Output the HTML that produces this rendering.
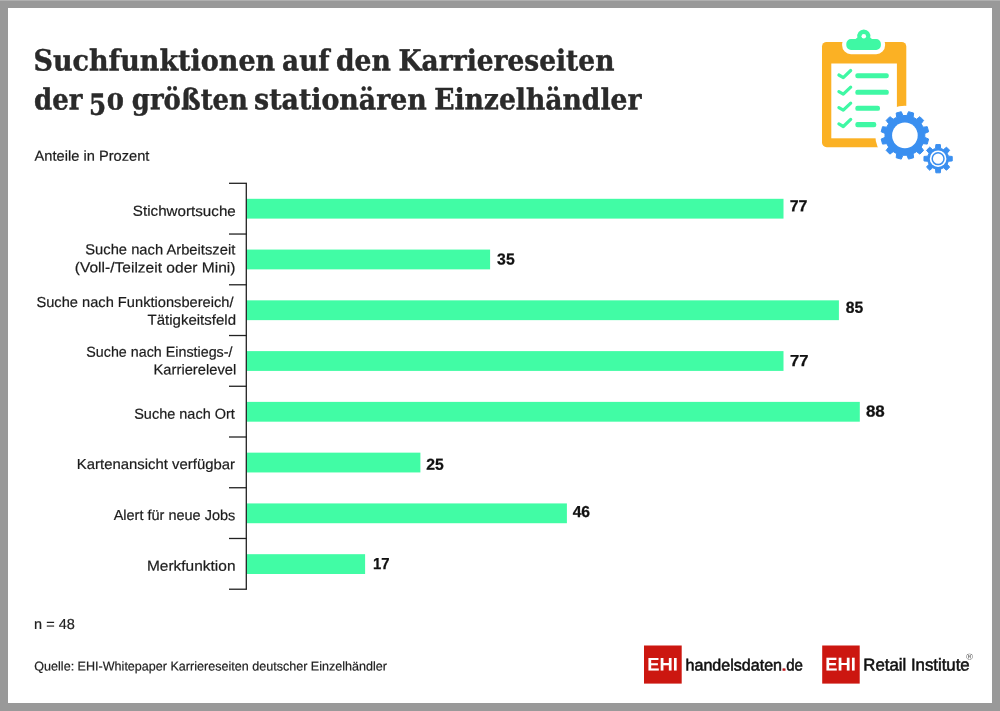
<!DOCTYPE html>
<html lang="de">
<head>
<meta charset="utf-8">
<title>Suchfunktionen auf den Karriereseiten der 50 größten stationären Einzelhändler</title>
<style>
html,body{margin:0;padding:0;background:#999;}
body{width:1000px;height:711px;overflow:hidden;}
svg{display:block;}
.ti{font-family:"DejaVu Serif Condensed","DejaVu Serif","Liberation Serif",serif;font-weight:bold;fill:#2a2a2a;stroke:#2a2a2a;stroke-width:0.4px;}
.lb{font-family:"Liberation Sans","DejaVu Sans",sans-serif;fill:#1c1c1c;stroke:#1c1c1c;stroke-width:0.2px;}
.ft{font-family:"Liberation Sans","DejaVu Sans",sans-serif;fill:#222;stroke:#222;stroke-width:0.2px;}
.vl{font-family:"Liberation Sans","DejaVu Sans",sans-serif;font-weight:bold;fill:#111;stroke:#111;stroke-width:0.25px;}
.ehi{font-family:"Liberation Sans","DejaVu Sans",sans-serif;font-weight:bold;fill:#fff;}
.lg{font-family:"Liberation Sans","DejaVu Sans",sans-serif;fill:#111;stroke:#111;stroke-width:0.55px;}
.rg{font-family:"Liberation Sans","DejaVu Sans",sans-serif;fill:#555;}
.lgr{font-family:"Liberation Sans","DejaVu Sans",sans-serif;fill:#c0141a;stroke:#c0141a;stroke-width:0.45px;}
</style>
</head>
<body>
<svg width="1000" height="711" viewBox="0 0 1000 711">
<rect x="0" y="0" width="1000" height="711" fill="#999999"/>
<rect x="0" y="0" width="1000" height="1" fill="#b0b0b0"/>
<rect x="8" y="8" width="984" height="695" fill="#ffffff"/>
<rect x="246.3" y="198.80" width="537.2" height="19.8" fill="#41fca5"/>
<rect x="246.3" y="249.57" width="243.8" height="19.8" fill="#41fca5"/>
<rect x="246.3" y="300.34" width="592.6" height="19.8" fill="#41fca5"/>
<rect x="246.3" y="351.11" width="537.2" height="19.8" fill="#41fca5"/>
<rect x="246.3" y="401.88" width="613.5" height="19.8" fill="#41fca5"/>
<rect x="246.3" y="452.65" width="174.1" height="19.8" fill="#41fca5"/>
<rect x="246.3" y="503.42" width="320.6" height="19.8" fill="#41fca5"/>
<rect x="246.3" y="554.19" width="118.8" height="19.8" fill="#41fca5"/>
<line x1="246.3" y1="183.3" x2="246.3" y2="589.22" stroke="#222" stroke-width="1.3"/>
<line x1="229" y1="183.30" x2="246.95000000000002" y2="183.30" stroke="#222" stroke-width="1.3"/>
<line x1="229" y1="234.04" x2="246.95000000000002" y2="234.04" stroke="#222" stroke-width="1.3"/>
<line x1="229" y1="284.78" x2="246.95000000000002" y2="284.78" stroke="#222" stroke-width="1.3"/>
<line x1="229" y1="335.52" x2="246.95000000000002" y2="335.52" stroke="#222" stroke-width="1.3"/>
<line x1="229" y1="386.26" x2="246.95000000000002" y2="386.26" stroke="#222" stroke-width="1.3"/>
<line x1="229" y1="437.00" x2="246.95000000000002" y2="437.00" stroke="#222" stroke-width="1.3"/>
<line x1="229" y1="487.74" x2="246.95000000000002" y2="487.74" stroke="#222" stroke-width="1.3"/>
<line x1="229" y1="538.48" x2="246.95000000000002" y2="538.48" stroke="#222" stroke-width="1.3"/>
<line x1="229" y1="589.22" x2="246.95000000000002" y2="589.22" stroke="#222" stroke-width="1.3"/>
<rect x="822" y="41.9" width="84.3" height="105.3" rx="4.6" fill="#fbb124"/>
<rect x="831.3" y="63.5" width="65.6" height="74.8" fill="#fff"/>
<path d="M851,39.1 H855.6 L857.4,37.6 A6.6,6.6 0 1 1 870.2,37.6 L872,39.1 H876.2 A4.7,4.7 0 0 1 880.9,43.8 V45.3 A4.7,4.7 0 0 1 876.2,50 H851 A4.7,4.7 0 0 1 846.3,45.3 V43.8 A4.7,4.7 0 0 1 851,39.1 Z" fill="#fff" stroke="#fff" stroke-width="8.4" stroke-linejoin="round"/>
<path d="M851,39.1 H855.6 L857.4,37.6 A6.6,6.6 0 1 1 870.2,37.6 L872,39.1 H876.2 A4.7,4.7 0 0 1 880.9,43.8 V45.3 A4.7,4.7 0 0 1 876.2,50 H851 A4.7,4.7 0 0 1 846.3,45.3 V43.8 A4.7,4.7 0 0 1 851,39.1 Z" fill="#3ff8a4"/>
<circle cx="863.8" cy="36.2" r="2.3" fill="#fff"/>
<path d="M838.9,75.0 L843.3,77.6 L850.7,70.5" fill="none" stroke="#3ff8a4" stroke-width="3.2" stroke-linecap="round" stroke-linejoin="round"/>
<rect x="855.3" y="73.15" width="33.5" height="5.1" rx="2.2" fill="#3ff8a4"/>
<path d="M838.9,91.6 L843.3,94.2 L850.7,87.1" fill="none" stroke="#3ff8a4" stroke-width="3.2" stroke-linecap="round" stroke-linejoin="round"/>
<rect x="855.3" y="89.75" width="33.5" height="5.1" rx="2.2" fill="#3ff8a4"/>
<path d="M838.9,107.6 L843.3,110.2 L850.7,103.1" fill="none" stroke="#3ff8a4" stroke-width="3.2" stroke-linecap="round" stroke-linejoin="round"/>
<rect x="855.3" y="105.75" width="24.7" height="5.1" rx="2.2" fill="#3ff8a4"/>
<path d="M838.9,123.9 L843.3,126.5 L850.7,119.4" fill="none" stroke="#3ff8a4" stroke-width="3.2" stroke-linecap="round" stroke-linejoin="round"/>
<rect x="855.3" y="122.05" width="21.0" height="5.1" rx="2.2" fill="#3ff8a4"/>
<circle cx="904.9" cy="135.4" r="29.6" fill="#fff"/>
<path d="M906.89,115.50 L908.53,111.68 L913.62,113.04 L913.13,117.17 L916.57,119.16 L919.91,116.67 L923.63,120.39 L921.14,123.73 L923.13,127.17 L927.26,126.68 L928.62,131.77 L924.80,133.41 L924.80,137.39 L928.62,139.03 L927.26,144.12 L923.13,143.63 L921.14,147.07 L923.63,150.41 L919.91,154.13 L916.57,151.64 L913.13,153.63 L913.62,157.76 L908.53,159.12 L906.89,155.30 L902.91,155.30 L901.27,159.12 L896.18,157.76 L896.67,153.63 L893.23,151.64 L889.89,154.13 L886.17,150.41 L888.66,147.07 L886.67,143.63 L882.54,144.12 L881.18,139.03 L885.00,137.39 L885.00,133.41 L881.18,131.77 L882.54,126.68 L886.67,127.17 L888.66,123.73 L886.17,120.39 L889.89,116.67 L893.23,119.16 L896.67,117.17 L896.18,113.04 L901.27,111.68 L902.91,115.50Z" fill="#3a8ff0" stroke="#3a8ff0" stroke-width="1" stroke-linejoin="round"/>
<circle cx="904.9" cy="135.4" r="12.8" fill="#fff"/>
<path d="M935.54,148.41 L935.86,144.58 L940.34,144.58 L940.66,148.41 L943.57,149.62 L946.51,147.13 L949.67,150.29 L947.18,153.23 L948.39,156.14 L952.22,156.46 L952.22,160.94 L948.39,161.26 L947.18,164.17 L949.67,167.11 L946.51,170.27 L943.57,167.78 L940.66,168.99 L940.34,172.82 L935.86,172.82 L935.54,168.99 L932.63,167.78 L929.69,170.27 L926.53,167.11 L929.02,164.17 L927.81,161.26 L923.98,160.94 L923.98,156.46 L927.81,156.14 L929.02,153.23 L926.53,150.29 L929.69,147.13 L932.63,149.62Z" fill="#fff" stroke="#fff" stroke-width="5" stroke-linejoin="round"/>
<path d="M935.54,148.41 L935.86,144.58 L940.34,144.58 L940.66,148.41 L943.57,149.62 L946.51,147.13 L949.67,150.29 L947.18,153.23 L948.39,156.14 L952.22,156.46 L952.22,160.94 L948.39,161.26 L947.18,164.17 L949.67,167.11 L946.51,170.27 L943.57,167.78 L940.66,168.99 L940.34,172.82 L935.86,172.82 L935.54,168.99 L932.63,167.78 L929.69,170.27 L926.53,167.11 L929.02,164.17 L927.81,161.26 L923.98,160.94 L923.98,156.46 L927.81,156.14 L929.02,153.23 L926.53,150.29 L929.69,147.13 L932.63,149.62Z" fill="#3a8ff0" stroke="#3a8ff0" stroke-width="1" stroke-linejoin="round"/>
<circle cx="938.1" cy="158.7" r="8.3" fill="#fff"/>
<circle cx="938.1" cy="158.7" r="5.9" fill="#fff" stroke="#3a8ff0" stroke-width="1.5"/>
<rect x="644" y="645.5" width="37.7" height="38.1" fill="#cc1710"/>
<rect x="822.2" y="645.5" width="37.5" height="38.1" fill="#cc1710"/>
<text id="t1" class="ti" transform="matrix(1,0.0006,0,1,0,-0.0930)" x="33.46" y="70.50" font-size="29.2" textLength="241.75" lengthAdjust="spacingAndGlyphs">Suchfunktionen</text>
<text id="t2" class="ti" transform="matrix(1,0.0006,0,1,0,-0.1842)" x="282.13" y="70.50" font-size="29.2" textLength="47.39" lengthAdjust="spacingAndGlyphs">auf</text>
<text id="t3" class="ti" transform="matrix(1,0.0006,0,1,0,-0.2182)" x="335.93" y="70.50" font-size="29.2" textLength="54.92" lengthAdjust="spacingAndGlyphs">den</text>
<text id="t4" class="ti" transform="matrix(1,0.0006,0,1,0,-0.3042)" x="398.56" y="70.50" font-size="29.2" textLength="215.91" lengthAdjust="spacingAndGlyphs">Karriereseiten</text>
<text id="t5" class="ti" transform="matrix(1,0.0006,0,1,0,-0.0354)" x="34.01" y="109.40" font-size="29.2" textLength="48.42" lengthAdjust="spacingAndGlyphs">der</text>
<text id="t6" transform="matrix(1,0.0006,0,1,0,-0.0642)"><tspan class="ti" x="89.10" y="114.70" font-size="29.2" textLength="17.13" lengthAdjust="spacingAndGlyphs">5</tspan><tspan class="ti" x="106.78" y="109.60" font-size="22.4" textLength="17.27" lengthAdjust="spacingAndGlyphs">0</tspan></text>
<text id="t7" class="ti" transform="matrix(1,0.0006,0,1,0,-0.1142)" x="131.80" y="109.40" font-size="29.2" textLength="116.20" lengthAdjust="spacingAndGlyphs">größten</text>
<text id="t8" class="ti" transform="matrix(1,0.0006,0,1,0,-0.2045)" x="254.06" y="109.40" font-size="29.2" textLength="172.79" lengthAdjust="spacingAndGlyphs">stationären</text>
<text id="t9" class="ti" transform="matrix(1,0.0006,0,1,0,-0.3231)" x="434.18" y="109.40" font-size="29.2" textLength="207.30" lengthAdjust="spacingAndGlyphs">Einzelhändler</text>
<text id="sub" class="lb" transform="matrix(1,0.0006,0,1,0,-0.0553)" x="34.60" y="160.80" font-size="14.5" textLength="114.84" lengthAdjust="spacingAndGlyphs">Anteile in Prozent</text>
<text id="l1" class="lb" transform="matrix(1,0.0006,0,1,0,-0.1105)" x="132.86" y="215.90" font-size="14.5" textLength="102.94" lengthAdjust="spacingAndGlyphs">Stichwortsuche</text>
<text id="l2a" class="lb" transform="matrix(1,0.0006,0,1,0,-0.0963)" x="85.28" y="254.40" font-size="14.5" textLength="150.00" lengthAdjust="spacingAndGlyphs">Suche nach Arbeitszeit</text>
<text id="l2b" class="lb" transform="matrix(1,0.0006,0,1,0,-0.0930)" x="74.77" y="272.40" font-size="14.5" textLength="160.72" lengthAdjust="spacingAndGlyphs">(Voll-/Teilzeit oder Mini)</text>
<text id="l3a" class="lb" transform="matrix(1,0.0006,0,1,0,-0.0811)" x="36.40" y="307.00" font-size="14.5" textLength="197.18" lengthAdjust="spacingAndGlyphs">Suche nach Funktionsbereich/</text>
<text id="l3b" class="lb" transform="matrix(1,0.0006,0,1,0,-0.1148)" x="147.49" y="324.80" font-size="14.5" textLength="88.53" lengthAdjust="spacingAndGlyphs">Tätigkeitsfeld</text>
<text id="l4a" class="lb" transform="matrix(1,0.0006,0,1,0,-0.0958)" x="86.26" y="356.80" font-size="14.5" textLength="146.23" lengthAdjust="spacingAndGlyphs">Suche nach Einstiegs-/</text>
<text id="l4b" class="lb" transform="matrix(1,0.0006,0,1,0,-0.1170)" x="153.55" y="374.60" font-size="14.5" textLength="82.71" lengthAdjust="spacingAndGlyphs">Karrierelevel</text>
<text id="l5" class="lb" transform="matrix(1,0.0006,0,1,0,-0.1108)" x="134.21" y="418.75" font-size="14.5" textLength="100.67" lengthAdjust="spacingAndGlyphs">Suche nach Ort</text>
<text id="l6" class="lb" transform="matrix(1,0.0006,0,1,0,-0.0938)" x="76.80" y="469.10" font-size="14.5" textLength="158.22" lengthAdjust="spacingAndGlyphs">Kartenansicht verfügbar</text>
<text id="l7" class="lb" transform="matrix(1,0.0006,0,1,0,-0.1046)" x="113.69" y="520.10" font-size="14.5" textLength="121.59" lengthAdjust="spacingAndGlyphs">Alert für neue Jobs</text>
<text id="l8" class="lb" transform="matrix(1,0.0006,0,1,0,-0.1148)" x="146.95" y="570.70" font-size="14.5" textLength="88.58" lengthAdjust="spacingAndGlyphs">Merkfunktion</text>
<text id="v1" class="vl" transform="matrix(1,0.0006,0,1,0,-0.4791)" x="789.72" y="211.20" font-size="15.9" textLength="17.79" lengthAdjust="spacingAndGlyphs">77</text>
<text id="v2" class="vl" transform="matrix(1,0.0006,0,1,0,-0.3036)" x="497.11" y="264.60" font-size="15.9" textLength="17.60" lengthAdjust="spacingAndGlyphs">35</text>
<text id="v3" class="vl" transform="matrix(1,0.0006,0,1,0,-0.5127)" x="845.71" y="312.80" font-size="15.9" textLength="17.52" lengthAdjust="spacingAndGlyphs">85</text>
<text id="v4" class="vl" transform="matrix(1,0.0006,0,1,0,-0.4796)" x="790.06" y="366.00" font-size="15.9" textLength="18.51" lengthAdjust="spacingAndGlyphs">77</text>
<text id="v5" class="vl" transform="matrix(1,0.0006,0,1,0,-0.5252)" x="865.93" y="416.40" font-size="15.9" textLength="18.87" lengthAdjust="spacingAndGlyphs">88</text>
<text id="v6" class="vl" transform="matrix(1,0.0006,0,1,0,-0.2610)" x="426.34" y="469.80" font-size="15.9" textLength="17.57" lengthAdjust="spacingAndGlyphs">25</text>
<text id="v7" class="vl" transform="matrix(1,0.0006,0,1,0,-0.3487)" x="572.65" y="517.00" font-size="15.9" textLength="17.48" lengthAdjust="spacingAndGlyphs">46</text>
<text id="v8" class="vl" transform="matrix(1,0.0006,0,1,0,-0.2288)" x="373.05" y="569.00" font-size="15.9" textLength="16.60" lengthAdjust="spacingAndGlyphs">17</text>
<text id="n" class="ft" transform="matrix(1,0.0006,0,1,0,-0.0328)" x="34.07" y="629.10" font-size="14.5" textLength="40.77" lengthAdjust="spacingAndGlyphs">n = 48</text>
<text id="q" class="ft" transform="matrix(1,0.0006,0,1,0,-0.1265)" x="34.32" y="670.50" font-size="12.8" textLength="352.68" lengthAdjust="spacingAndGlyphs">Quelle: EHI-Whitepaper Karriereseiten deutscher Einzelhändler</text>
<text id="e1" class="ehi" transform="matrix(1,0.0006,0,1,0,-0.3976)" x="647.22" y="670.60" font-size="18.2" textLength="30.63" lengthAdjust="spacingAndGlyphs">EHI</text>
<text id="e2" class="ehi" transform="matrix(1,0.0006,0,1,0,-0.5044)" x="825.36" y="670.60" font-size="18.4" textLength="30.56" lengthAdjust="spacingAndGlyphs">EHI</text>
<text id="hdl" transform="matrix(1,0.0006,0,1,0,-0.4464)"><tspan class="lg" x="685.50" y="670.60" font-size="16.2" textLength="96.52" lengthAdjust="spacingAndGlyphs">handelsdaten</tspan><tspan class="lgr" x="780.84" y="670.60" font-size="16.2" textLength="6.51" lengthAdjust="spacingAndGlyphs">.</tspan><tspan class="lg" x="786.21" y="670.60" font-size="16.2" textLength="16.76" lengthAdjust="spacingAndGlyphs">de</tspan></text>
<text id="ri" class="lg" transform="matrix(1,0.0006,0,1,0,-0.5501)" x="863.35" y="670.60" font-size="17.2" textLength="106.36" lengthAdjust="spacingAndGlyphs">Retail Institute</text>
<text id="reg" class="rg" transform="matrix(1,0.0006,0,1,0,-0.5820)" x="966.06" y="659.40" font-size="8.4" textLength="7.16" lengthAdjust="spacingAndGlyphs">®</text>
</svg>
</body>
</html>
